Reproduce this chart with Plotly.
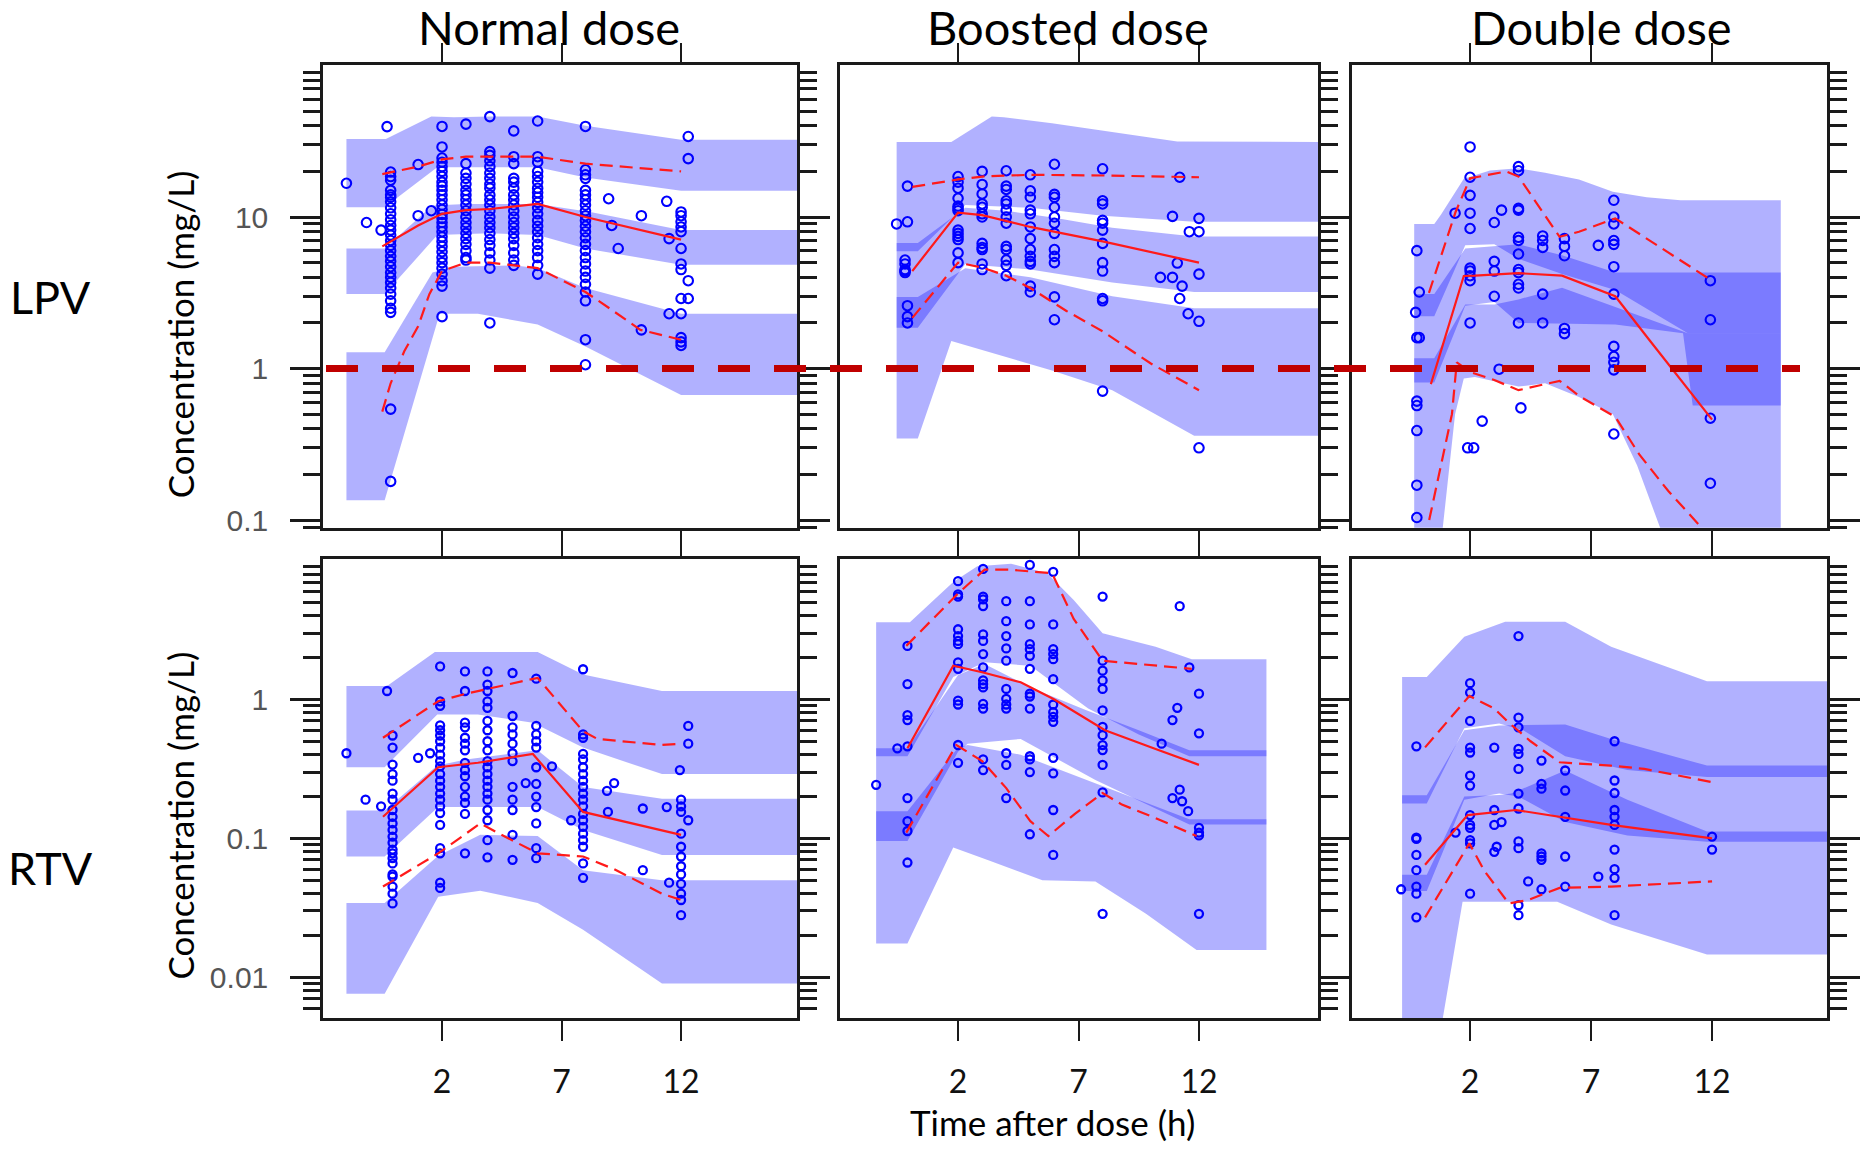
import math
import plotly.graph_objects as go

# ======================= DATA =======================
# Bands: simulated prediction-interval CIs (upper / median / lower), as (time, conc) edges
# Observed percentiles: p95 / p50 / p05 ; observations: (time, [concentrations])

# ---------- LPV, normal dose ----------
lpv_normal_hi_top = [(-2, 32.7), (-0.35, 32.7), (1.55, 46), (2.5, 45.5), (4, 46), (6, 46), (8, 40), (11.5, 33), (12, 32.4), (17, 32.4)]
lpv_normal_hi_bot = [(-2, 11.6), (-0.4, 11.6), (1.8, 21.3), (6, 21.3), (8, 18.2), (12, 14.9), (17, 14.9)]
lpv_normal_mid_top = [(-2, 6.2), (-0.4, 6.2), (1.6, 11.9), (3, 12.2), (6, 12.2), (8.2, 10.8), (12, 8.2), (17, 8.2)]
lpv_normal_mid_bot = [(-2, 3.1), (-0.4, 3.1), (1.8, 7.6), (4, 7.8), (6, 7.6), (8, 6.2), (12, 4.84), (17, 4.84)]
lpv_normal_lo_top = [(-2, 1.28), (-0.4, 1.28), (1.6, 4.3), (2.5, 4.7), (5, 4.8), (6, 4.6), (8, 3.4), (12, 2.3), (17, 2.3)]
lpv_normal_lo_bot = [(-2, 0.135), (-0.4, 0.135), (1.9, 2.3), (3.5, 2.3), (6, 1.95), (8, 1.4), (12, 0.67), (17, 0.67)]
lpv_normal_p95 = [(-0.5, 19.2), (1, 21.5), (2, 24), (3, 25), (4, 25), (6, 25), (8, 22.5), (12, 20)]
lpv_normal_p50 = [(-0.5, 6.4), (1, 8.8), (2, 10.5), (3, 11.1), (4, 11.3), (5, 11.8), (6, 12.2), (8, 10), (12, 7.1)]
lpv_normal_p05 = [(-0.5, 0.52), (-0.15, 0.8), (0.42, 1.3), (1, 1.9), (1.47, 3.1), (2, 4.4), (3, 5.0), (4, 5.0), (6, 4.6), (8, 3.2), (9, 2.5), (10.3, 1.8), (12, 1.55)]
lpv_normal_obs = [
    (-0.15, [19.8, 18.5, 17.5, 15.0, 14.0, 13.5, 12.6, 11.5, 10.5, 9.6, 8.8, 8.2, 7.6, 7.0, 6.5, 6.0, 5.5, 5.1, 4.7, 4.3, 4.0, 3.7, 3.4, 3.1, 2.8, 2.5, 2.35, 0.54, 0.18]),
    (-0.3, [39.5]),
    (2, [39.6, 29, 24.5, 23, 21.5, 20, 18.5, 17, 16, 15, 14, 13, 12, 11.2, 10.4, 9.8, 9.2, 8.6, 8.0, 7.4, 6.9, 6.4, 5.9, 5.4, 5.0, 4.6, 4.2, 3.8, 3.5, 2.2]),
    (3, [41, 22.5, 19.5, 18, 16.5, 15, 14, 13, 12, 11, 10, 9.2, 8.5, 7.8, 7.2, 6.6, 6.0, 5.4, 5.2]),
    (4, [46, 27, 25.5, 23.5, 21.5, 19.5, 18, 16.5, 15.5, 14, 13, 12, 11, 10, 9.2, 8.5, 7.8, 7.1, 6.5, 5.8, 5.2, 4.6, 2.0]),
    (5, [37, 25, 22.5, 18, 17, 15.5, 14, 13, 12, 11, 10, 9.2, 8.5, 7.8, 7.2, 6.5, 5.8, 5.2, 4.8]),
    (6, [43, 25, 23, 20, 18.5, 17, 15.5, 14.5, 13.5, 12.5, 11.5, 10.5, 9.5, 8.7, 8.0, 7.3, 6.6, 6.0, 5.4, 4.8, 4.2]),
    (8, [39.6, 20.5, 19, 18, 15, 14, 13, 12, 11, 10.2, 9.5, 8.7, 8.0, 7.3, 6.6, 6.0, 5.4, 4.9, 4.4, 4.0, 3.6, 3.2, 2.8, 1.55, 1.06]),
    (12, [10.8, 10.2, 9.3, 8.6, 8.0, 6.2, 4.9, 4.5, 2.9, 2.3, 1.6, 1.5, 1.42]),
    (12.3, [34, 24.3, 3.8, 2.9]),
    (-2.0, [16.7]), (-1.16, [9.2]), (-0.55, [8.2]), (1, [22.2, 10.2]), (1.55, [11]),
    (8.97, [13.2]), (9.1, [8.8]), (9.37, [6.2]), (10.34, [10.2, 1.8]), (11.4, [12.7]), (11.5, [7.2, 2.3]),
]

# ---------- LPV, boosted dose ----------
lpv_boosted_hi_top = [(-0.55, 31.3), (1.72, 31.3), (3.4, 46), (3.9, 45.5), (5.9, 41.5), (8.4, 36.5), (11.1, 31.5), (17, 31.3)]
lpv_boosted_hi_bot = [(-0.55, 5.95), (0.33, 5.95), (2.3, 12.0), (5.0, 11.5), (8.0, 10.2), (11.8, 9.3), (17, 9.3)]
lpv_boosted_mid_top = [(-0.55, 6.73), (0.33, 6.73), (2.3, 11.5), (4.0, 11.0), (6.0, 9.9), (8.4, 8.5), (11.8, 7.44), (17, 7.44)]
lpv_boosted_mid_bot = [(-0.55, 1.86), (0.33, 1.86), (2.3, 4.9), (5.0, 4.5), (8.4, 3.7), (11.8, 3.2), (17, 3.2)]
lpv_boosted_lo_top = [(-0.55, 2.97), (0.33, 2.97), (2.3, 4.6), (5.0, 4.0), (8.4, 3.0), (11.8, 2.5), (17, 2.5)]
lpv_boosted_lo_bot = [(-0.55, 0.345), (0.33, 0.345), (1.72, 1.52), (3.4, 1.26), (5.9, 0.97), (8.4, 0.72), (11.8, 0.36), (17, 0.36)]
lpv_boosted_p95 = [(0.1, 15.8), (2, 17.7), (3, 18.5), (5, 19.0), (8, 18.8), (12, 18.3)]
lpv_boosted_p50 = [(0.1, 4.4), (2, 10.7), (3, 10.3), (5, 8.6), (8, 6.9), (12, 5.0)]
lpv_boosted_p05 = [(0.1, 2.16), (2, 5.0), (3, 4.64), (4, 4.1), (5, 3.4), (6.5, 2.4), (8, 1.76), (10, 1.08), (12, 0.72)]
lpv_boosted_obs = [
    (-0.55, [9.0]), (-0.1, [16, 9.3, 2.6, 2.2, 2.0]), (-0.2, [5.2, 4.9, 4.5, 4.4, 4.3]),
    (2, [18.5, 17, 15.5, 13.3, 11.8, 11.4, 11.0, 8.2, 7.8, 7.45, 7.1, 5.8, 5.0]),
    (3, [20, 16.4, 14.2, 12.2, 11.6, 10.5, 10, 6.7, 6.3, 6.1, 4.9, 4.5]),
    (4, [20.2, 16, 15.2, 12.8, 12.2, 11.1, 10, 9.1, 6.4, 6.1, 5.2, 4.8, 4.1]),
    (5, [19, 14.9, 13.5, 11.1, 10.5, 8.6, 7.2, 6.1, 5.5, 5.1, 4.9, 3.5, 3.2]),
    (6, [22.3, 14.1, 13.5, 11.6, 10, 9.1, 7.8, 6.1, 5.5, 5.0, 2.97, 2.1]),
    (8, [20.8, 12.8, 12.2, 9.5, 9.1, 8.2, 6.7, 5.0, 4.4, 2.9, 2.8, 0.71]),
    (10.9, [10.1, 4.0]), (11.2, [18.3, 2.9]), (11.6, [8.0]), (12, [9.8, 8.0, 4.2, 2.05, 0.3]),
    (11.1, [4.97]), (10.4, [4.0]), (11.3, [3.5]), (11.55, [2.3]),
]

# ---------- LPV, double dose ----------
lpv_double_hi_top = [(-0.31, 9.0), (0.52, 9.0), (0.8, 10.4), (1.4, 14.7), (1.74, 17.9), (2.82, 20.3), (4.0, 21), (5.1, 19.6), (6.5, 17.7), (7.9, 14.7), (9.3, 13.5), (10.7, 12.9), (14.84, 12.9)]
lpv_double_hi_bot = [(-0.31, 2.21), (0.52, 2.21), (1.8, 6.5), (3.0, 6.6), (4.0, 5.3), (5.8, 4.2), (8.0, 3.3), (11.0, 1.71), (14.84, 1.71)]
lpv_double_mid_top = [(-0.31, 3.1), (0.52, 3.1), (1.8, 6.2), (3.0, 6.4), (4.0, 6.6), (5.8, 5.6), (8.0, 4.3), (14.84, 4.3)]
lpv_double_mid_bot = [(-0.31, 0.81), (0.52, 0.81), (1.8, 2.6), (3.0, 2.75), (4.0, 2.0), (8.0, 1.95), (10.8, 1.71), (11.2, 0.57), (14.84, 0.57)]
lpv_double_lo_top = [(-0.31, 1.17), (0.52, 1.17), (1.8, 2.65), (3.0, 2.65), (4.0, 2.86), (5.8, 3.42), (11.0, 1.71), (14.84, 1.71)]
lpv_double_lo_bot = [(-0.31, 0.03), (0.55, 0.03), (0.85, 0.09), (1.38, 0.5), (1.74, 0.86), (2.2, 0.88), (4.0, 0.76), (5.1, 0.8), (6.5, 0.65), (7.9, 0.5), (8.9, 0.23), (9.9, 0.085), (11, 0.04), (14.84, 0.03)]
lpv_double_p95 = [(0.3, 3.16), (0.8, 5.5), (1.4, 10.8), (2, 18), (2.7, 19), (3.5, 20), (4.0, 18.5), (4.7, 12.6), (5.7, 7.4), (6.5, 8.0), (8, 9.8), (12, 3.8)]
lpv_double_p50 = [(0.38, 0.79), (1.74, 4.08), (2.2, 4.1), (4, 4.26), (5.8, 4.1), (8, 3.0), (9.4, 1.55), (12, 0.46)]
lpv_double_p05 = [(0.31, 0.1), (0.81, 0.23), (1.25, 0.5), (1.45, 1.1), (2, 0.95), (3, 0.84), (4, 0.72), (4.8, 0.77), (5.7, 0.83), (6.5, 0.66), (8, 0.48), (9, 0.27), (10.2, 0.155), (11.6, 0.088), (12, 0.07)]
lpv_double_obs = [
    (-0.2, [6.0, 1.6, 0.61, 0.57, 0.39, 0.17, 0.104]), (-0.1, [3.2, 1.6]), (-0.25, [2.35]),
    (2, [29, 18.3, 13.9, 10.6, 8.4, 4.6, 4.4, 4.1, 3.8, 2.0]), (1.9, [0.30]), (2.15, [0.30]),
    (1.38, [10.6]), (2.5, [0.45]), (3, [9.2, 5.1, 4.4, 3.0]), (3.3, [11.1]), (3.2, [0.99]), (4.1, [0.55]), (7.3, [6.5]),
    (4, [21.5, 20.2, 11.4, 11.1, 7.35, 7.0, 5.7, 4.5, 4.3, 3.6, 3.4, 2.0]),
    (5, [7.5, 7.0, 6.3, 3.1, 2.0]),
    (5.9, [7.2, 6.4, 5.55, 1.84, 1.70]),
    (7.94, [12.9, 10, 9.0, 7.0, 6.6, 4.7, 3.1, 1.4, 1.2, 1.1, 0.98, 0.37]),
    (11.93, [3.8, 2.1, 0.47, 0.175]),
]

# ---------- RTV, normal dose ----------
rtv_normal_hi_top = [(-2, 1.25), (-0.3, 1.25), (1.7, 2.2), (2.2, 2.2), (3.6, 2.2), (6, 2.2), (7.9, 1.51), (11.2, 1.15), (17, 1.15)]
rtv_normal_hi_bot = [(-2, 0.325), (-0.4, 0.325), (1.8, 0.78), (3.5, 0.78), (5.8, 0.68), (7.9, 0.45), (11.2, 0.29), (17, 0.29)]
rtv_normal_mid_top = [(-2, 0.159), (-0.4, 0.159), (1.8, 0.334), (3.0, 0.37), (6, 0.43), (7.9, 0.234), (11.2, 0.193), (17, 0.193)]
rtv_normal_mid_bot = [(-2, 0.074), (-0.4, 0.074), (1.84, 0.168), (6, 0.168), (7.9, 0.115), (11.2, 0.076), (17, 0.076)]
rtv_normal_lo_top = [(-2, 0.0343), (-0.4, 0.0343), (1.84, 0.075), (3.6, 0.106), (6, 0.104), (7.9, 0.059), (11.2, 0.05), (17, 0.05)]
rtv_normal_lo_bot = [(-2, 0.0076), (-0.4, 0.0076), (1.84, 0.038), (3.6, 0.042), (6, 0.0343), (7.9, 0.022), (11.2, 0.009), (17, 0.009)]
rtv_normal_p95 = [(-0.47, 0.53), (1.84, 0.97), (3, 1.1), (5, 1.3), (6, 1.43), (7.9, 0.59), (8.5, 0.52), (11.2, 0.47), (12, 0.48)]
rtv_normal_p50 = [(-0.47, 0.143), (1.84, 0.325), (3.5, 0.35), (5.8, 0.405), (7.9, 0.155), (12, 0.106)]
rtv_normal_p05 = [(-0.47, 0.045), (1.84, 0.078), (3.6, 0.128), (4.4, 0.108), (6, 0.078), (7.9, 0.074), (9.2, 0.06), (11.2, 0.04), (12, 0.036)]
rtv_normal_obs = [
    (-0.3, [1.15]),
    (-0.07, [0.55, 0.45, 0.34, 0.29, 0.26, 0.21, 0.19, 0.16, 0.143, 0.128, 0.115, 0.103, 0.093, 0.083, 0.078, 0.072, 0.066, 0.055, 0.053, 0.045, 0.04, 0.034]),
    (1.92, [1.73, 0.97, 0.9, 0.65, 0.6, 0.55, 0.5, 0.45, 0.4, 0.36, 0.33, 0.29, 0.26, 0.235, 0.21, 0.19, 0.17, 0.152, 0.125, 0.085, 0.078, 0.048, 0.044]),
    (2.96, [1.59, 1.15, 0.68, 0.63, 0.53, 0.48, 0.43, 0.35, 0.31, 0.28, 0.235, 0.2, 0.18, 0.15, 0.078]),
    (3.9, [1.59, 1.28, 1.15, 0.97, 0.87, 0.7, 0.6, 0.5, 0.43, 0.36, 0.325, 0.29, 0.26, 0.235, 0.21, 0.19, 0.16, 0.135, 0.097, 0.073]),
    (4.95, [1.55, 0.76, 0.63, 0.56, 0.48, 0.41, 0.36, 0.235, 0.19, 0.16, 0.106, 0.07]),
    (5.94, [1.41, 0.645, 0.56, 0.5, 0.45, 0.325, 0.247, 0.2, 0.168, 0.128, 0.085, 0.072]),
    (7.9, [1.65, 0.56, 0.53, 0.405, 0.37, 0.325, 0.29, 0.26, 0.235, 0.21, 0.19, 0.17, 0.15, 0.135, 0.121, 0.108, 0.097, 0.087, 0.066, 0.052]),
    (12, [0.19, 0.17, 0.155, 0.108, 0.087, 0.074, 0.063, 0.055, 0.047, 0.04, 0.036, 0.028]),
    (12.3, [0.645, 0.48, 0.135]), (11.95, [0.31]),
    (5.5, [0.25]), (6.6, [0.33]), (7.4, [0.135]), (-1.2, [0.19]), (-2.0, [0.41]), (-0.55, [0.17]),
    (1.0, [0.38]), (1.5, [0.41]), (8.9, [0.22]), (9.2, [0.25]), (10.4, [0.164, 0.059]), (11.4, [0.168]),
    (11.5, [0.048]), (8.94, [0.155]),
]

# ---------- RTV, boosted dose ----------
rtv_boosted_hi_top = [(-1.4, 3.6), (0.0, 3.6), (1.8, 7.0), (2.8, 9.1), (4.2, 9.5), (5.7, 8.1), (6.8, 5.2), (8.0, 3.0), (10.2, 2.4), (11.7, 1.95), (14.8, 1.95)]
rtv_boosted_hi_bot = [(-1.4, 0.39), (-0.1, 0.39), (1.8, 1.45), (3.1, 1.85), (5.0, 1.75), (7.4, 0.86), (9.5, 0.56), (11.6, 0.39), (14.8, 0.39)]
rtv_boosted_mid_top = [(-1.4, 0.445), (-0.1, 0.445), (2.0, 1.5), (3.1, 1.8), (5.1, 1.2), (7.3, 0.84), (9.5, 0.6), (11.6, 0.43), (14.8, 0.43)]
rtv_boosted_mid_bot = [(-1.4, 0.0957), (-0.1, 0.0957), (2.0, 0.42), (2.4, 0.48), (4.6, 0.52), (7.7, 0.263), (11.6, 0.126), (14.8, 0.126)]
rtv_boosted_lo_top = [(-1.4, 0.157), (-0.1, 0.157), (2.0, 0.45), (2.4, 0.47), (4.6, 0.4), (7.7, 0.25), (11.6, 0.137), (14.8, 0.137)]
rtv_boosted_lo_bot = [(-1.4, 0.0175), (-0.1, 0.0175), (1.8, 0.0858), (3.2, 0.07), (5.5, 0.05), (7.7, 0.049), (9.8, 0.0286), (11.9, 0.0157), (14.8, 0.0157)]
rtv_boosted_p95 = [(-0.15, 2.43), (2, 5.8), (3.1, 8.6), (4.1, 8.6), (5.9, 8.1), (6.8, 3.8), (8, 1.9), (8.8, 1.85), (11.7, 1.66)]
rtv_boosted_p50 = [(-0.1, 0.445), (1.8, 1.75), (3, 1.57), (4.6, 1.33), (6, 1.0), (8.1, 0.6), (10.2, 0.44), (12, 0.338)]
rtv_boosted_p05 = [(-0.15, 0.11), (1.93, 0.47), (3, 0.36), (4, 0.23), (5, 0.133), (5.75, 0.104), (6.85, 0.15), (8, 0.212), (8.8, 0.175), (10.2, 0.14), (11.9, 0.104)]
rtv_boosted_obs = [
    (-1.4, [0.243]), (-0.52, [0.445]),
    (-0.1, [2.43, 1.29, 0.77, 0.71, 0.46, 0.195, 0.133, 0.113, 0.067]),
    (2, [7.1, 5.7, 5.5, 3.2, 2.86, 2.64, 2.5, 1.85, 1.66, 0.98, 0.92, 0.47, 0.35]),
    (3.04, [8.7, 5.5, 5.25, 4.7, 2.94, 2.64, 2.12, 1.7, 1.37, 1.29, 1.22, 0.93, 0.86, 0.37, 0.31]),
    (4.0, [5.1, 3.66, 2.86, 2.33, 1.9, 1.19, 1.01, 0.92, 0.86, 0.41, 0.338, 0.195]),
    (4.98, [9.3, 5.1, 3.47, 2.5, 2.3, 2.06, 1.66, 1.1, 1.05, 0.86, 0.39, 0.37, 0.3, 0.107]),
    (5.95, [8.3, 3.47, 2.3, 2.12, 1.95, 1.4, 0.92, 0.81, 0.75, 0.69, 0.38, 0.294, 0.16, 0.076]),
    (8.0, [5.5, 1.9, 1.61, 1.37, 1.19, 0.834, 0.634, 0.553, 0.469, 0.432, 0.338, 0.214, 0.0286]),
    (11.2, [4.69, 0.224]), (11.6, [1.7]), (12, [1.1, 0.57, 0.119, 0.11, 0.105, 0.0286]), (11.1, [0.87]),
    (10.9, [0.71, 0.195]), (10.45, [0.48]), (11.3, [0.185]), (11.55, [0.157]),
]

# ---------- RTV, double dose ----------
rtv_double_hi_top = [(-0.81, 1.45), (0.21, 1.45), (1.76, 2.83), (3.45, 3.63), (5.93, 3.63), (7.83, 2.4), (11.79, 1.35), (16.9, 1.35)]
rtv_double_hi_bot = [(-0.81, 0.178), (0.21, 0.178), (1.76, 0.62), (3.2, 0.67), (4.2, 0.6), (5.93, 0.39), (8.5, 0.31), (11.79, 0.276), (16.9, 0.276)]
rtv_double_mid_top = [(-0.81, 0.204), (0.21, 0.204), (1.76, 0.6), (3.2, 0.65), (5.93, 0.66), (7.83, 0.52), (11.79, 0.334), (16.9, 0.334)]
rtv_double_mid_bot = [(-0.81, 0.0417), (0.21, 0.0417), (1.76, 0.19), (3.2, 0.21), (4.0, 0.2), (5.93, 0.131), (8.5, 0.105), (11.79, 0.0946), (16.9, 0.0946)]
rtv_double_lo_top = [(-0.81, 0.0548), (0.21, 0.0548), (1.76, 0.2), (3.2, 0.205), (3.7, 0.21), (5.93, 0.308), (8.5, 0.19), (11.79, 0.112), (16.9, 0.112)]
rtv_double_lo_bot = [(-0.81, 0.003), (0.65, 0.003), (1.69, 0.035), (5.6, 0.035), (7.83, 0.024), (11.79, 0.0146), (16.9, 0.0146)]
rtv_double_p95 = [(0.14, 0.452), (1.97, 1.06), (3.0, 0.86), (3.6, 0.68), (4.5, 0.5), (5.7, 0.353), (7.8, 0.334), (9.2, 0.316), (12, 0.254)]
rtv_double_p50 = [(0.14, 0.0645), (1.9, 0.147), (3.9, 0.16), (5.7, 0.143), (7.83, 0.125), (12, 0.1)]
rtv_double_p05 = [(0.14, 0.027), (1.97, 0.092), (2.6, 0.058), (3.6, 0.034), (4.4, 0.036), (5.7, 0.044), (7.83, 0.045), (12, 0.049)]
rtv_double_obs = [
    (-0.85, [0.043]),
    (-0.22, [0.46, 0.101, 0.099, 0.076, 0.059, 0.045, 0.04, 0.027]),
    (2.0, [1.31, 1.12, 0.7, 0.45, 0.415, 0.283, 0.24, 0.147, 0.125, 0.119, 0.097, 0.092, 0.04]),
    (1.4, [0.11]), (3.0, [0.45, 0.16, 0.125, 0.08]), (3.3, [0.131]), (3.1, [0.087]),
    (4.0, [2.86, 0.74, 0.63, 0.44, 0.405, 0.316, 0.21, 0.164, 0.095, 0.085, 0.033, 0.028]),
    (4.95, [0.363, 0.247, 0.228, 0.078, 0.074, 0.07, 0.043]), (4.4, [0.049]),
    (5.93, [0.308, 0.221, 0.143, 0.074, 0.045]),
    (7.97, [0.5, 0.261, 0.212, 0.16, 0.143, 0.125, 0.083, 0.06, 0.052, 0.028]), (7.3, [0.053]),
    (12, [0.103, 0.083]),
]

col_titles = ["Normal dose", "Boosted dose", "Double dose"]
row_titles = ["LPV", "RTV"]
x_tickvals = [2, 7, 12]
row_tickvals = [[0.1, 1, 10], [0.01, 0.1, 1]]
row_ticktext = [["0.1", "1", "10"], ["0.01", "0.1", "1"]]
threshold_conc = 1.0

panels = [
    dict(bands=[(lpv_normal_hi_top, lpv_normal_hi_bot), (lpv_normal_mid_top, lpv_normal_mid_bot), (lpv_normal_lo_top, lpv_normal_lo_bot)],
         obs=lpv_normal_obs, p95=lpv_normal_p95, p50=lpv_normal_p50, p05=lpv_normal_p05),
    dict(bands=[(lpv_boosted_hi_top, lpv_boosted_hi_bot), (lpv_boosted_mid_top, lpv_boosted_mid_bot), (lpv_boosted_lo_top, lpv_boosted_lo_bot)],
         obs=lpv_boosted_obs, p95=lpv_boosted_p95, p50=lpv_boosted_p50, p05=lpv_boosted_p05),
    dict(bands=[(lpv_double_hi_top, lpv_double_hi_bot), (lpv_double_mid_top, lpv_double_mid_bot), (lpv_double_lo_top, lpv_double_lo_bot)],
         obs=lpv_double_obs, p95=lpv_double_p95, p50=lpv_double_p50, p05=lpv_double_p05),
    dict(bands=[(rtv_normal_hi_top, rtv_normal_hi_bot), (rtv_normal_mid_top, rtv_normal_mid_bot), (rtv_normal_lo_top, rtv_normal_lo_bot)],
         obs=rtv_normal_obs, p95=rtv_normal_p95, p50=rtv_normal_p50, p05=rtv_normal_p05),
    dict(bands=[(rtv_boosted_hi_top, rtv_boosted_hi_bot), (rtv_boosted_mid_top, rtv_boosted_mid_bot), (rtv_boosted_lo_top, rtv_boosted_lo_bot)],
         obs=rtv_boosted_obs, p95=rtv_boosted_p95, p50=rtv_boosted_p50, p05=rtv_boosted_p05),
    dict(bands=[(rtv_double_hi_top, rtv_double_hi_bot), (rtv_double_mid_top, rtv_double_mid_bot), (rtv_double_lo_top, rtv_double_lo_bot)],
         obs=rtv_double_obs, p95=rtv_double_p95, p50=rtv_double_p50, p05=rtv_double_p05),
]

# ======================= LAYOUT / STYLE =======================
W, H = 1874, 1150
col_px = [(323, 797), (840, 1318), (1352, 1827)]
row_px = [(66, 532), (563, 1026)]
x_ranges = [(-2.98, 16.85), (-2.9, 16.94), (-2.88, 16.75)]
y_ranges_log = [(-1.051, 2.0), (-2.293, 1.014)]
threshold_span_px = (326, 1800)
BAND = "rgba(0,0,255,0.305)"
PT = "#0000FF"
RED = "#FF1A1A"
AX = "#1a1a1a"
minor_vals = [m * 10.0 ** k for k in range(-4, 3) for m in range(2, 10)]


def xs_ys(pairs):
    return [p[0] for p in pairs], [p[1] for p in pairs]


def flatten(groups):
    xs, ys = [], []
    for t, vals in groups:
        for v in vals:
            xs.append(t)
            ys.append(v)
    return xs, ys


fig = go.Figure()
layout = dict(width=W, height=H, autosize=False, margin=dict(l=0, r=0, t=0, b=0),
              paper_bgcolor="white", plot_bgcolor="rgba(0,0,0,0)", showlegend=False)

for i, p in enumerate(panels):
    r, c = divmod(i, 3)
    n = i + 1
    xa = "x" if n == 1 else f"x{n}"
    ya = "y" if n == 1 else f"y{n}"
    for top, bot in p["bands"]:
        tx, ty = xs_ys(top)
        bx, by = xs_ys(bot)
        fig.add_trace(go.Scatter(x=tx + bx[::-1], y=ty + by[::-1], fill="toself", fillcolor=BAND,
                                 mode="lines", line=dict(width=0, color=BAND), hoverinfo="skip",
                                 xaxis=xa, yaxis=ya))
    ox, oy = flatten(p["obs"])
    fig.add_trace(go.Scatter(x=ox, y=oy, mode="markers", xaxis=xa, yaxis=ya,
                             marker=dict(symbol="circle-open", size=9.5 if r == 0 else 8, color=PT,
                                         line=dict(width=2.1 if r == 0 else 2.3, color=PT))))
    for key, dash in (("p95", "13px,7px"), ("p05", "13px,7px"), ("p50", "solid")):
        lx, ly = xs_ys(p[key])
        fig.add_trace(go.Scatter(x=lx, y=ly, mode="lines", xaxis=xa, yaxis=ya,
                                 line=dict(color=RED, width=2.2, dash=dash)))

    c0, c1 = col_px[c]
    r0, r1 = row_px[r]
    layout["xaxis" if n == 1 else f"xaxis{n}"] = dict(
        domain=[c0 / W, c1 / W], range=list(x_ranges[c]), anchor=ya,
        tickmode="array", tickvals=x_tickvals, ticks="outside", ticklen=20, tickwidth=2, tickcolor=AX,
        showline=True, linewidth=2.5, linecolor=AX, mirror="ticks", showgrid=False, zeroline=False,
        showticklabels=(r == 1), tickfont=dict(family="Lato", size=32, color="#111"),
        ticklabelstandoff=14)
    layout["yaxis" if n == 1 else f"yaxis{n}"] = dict(
        domain=[1 - r1 / H, 1 - r0 / H], type="log", range=list(y_ranges_log[r]), anchor=xa,
        side="left" if c == 0 else "right",
        tickmode="array", tickvals=row_tickvals[r], ticktext=row_ticktext[r],
        ticks="outside", ticklen=30, tickwidth=2.5, tickcolor=AX,
        showline=True, linewidth=2.5, linecolor=AX, mirror=("ticks" if c == 0 else True),
        showgrid=False, zeroline=False, showticklabels=(c == 0),
        tickfont=dict(family="Liberation Sans", size=30, color="#555"), ticklabelstandoff=16,
        minor=dict(tickmode="array", tickvals=minor_vals, ticks="outside", ticklen=17,
                   tickwidth=2.5, tickcolor=AX, showgrid=False))

# Threshold line (1 mg/L) across the whole LPV row: an invisible full-width x axis on top of the row-1 y axis
layout["xaxis7"] = dict(domain=[0, 1], range=[0, W], visible=False, anchor="y", fixedrange=True)
fig.add_trace(go.Scatter(x=list(threshold_span_px), y=[threshold_conc, threshold_conc], mode="lines",
                         xaxis="x7", yaxis="y", hoverinfo="skip",
                         line=dict(color="#C00000", width=7, dash="32px,24px")))

ann = []
for c, t in enumerate(col_titles):
    ann.append(dict(text=t, x=[549, 1068, 1601][c] / W, y=1 - 27 / H, xref="paper", yref="paper",
                    showarrow=False, xanchor="center", yanchor="middle",
                    font=dict(family="Lato", size=47, color="black")))
for r, t in enumerate(row_titles):
    ann.append(dict(text=t, x=50 / W, y=1 - [299, 875][r] / H, xref="paper", yref="paper",
                    showarrow=False, xanchor="center", yanchor="middle",
                    font=dict(family="Lato", size=45, color="black")))
    ann.append(dict(text="Concentration (mg/L)", x=180 / W, y=1 - [337, 822][r] / H, xref="paper",
                    yref="paper", showarrow=False, textangle=-90, xanchor="center", yanchor="middle",
                    font=dict(family="Lato", size=35, color="black")))
ann.append(dict(text="Time after dose (h)", x=1052 / W, y=1 - 1131 / H, xref="paper", yref="paper",
                showarrow=False, xanchor="center", yanchor="middle",
                font=dict(family="Lato", size=35, color="black")))
layout["annotations"] = ann

fig.update_layout(**layout)
fig.write_html("out.html", config={"displayModeBar": False},
               post_script="document.body.style.margin='0';document.body.style.overflow='hidden';")
